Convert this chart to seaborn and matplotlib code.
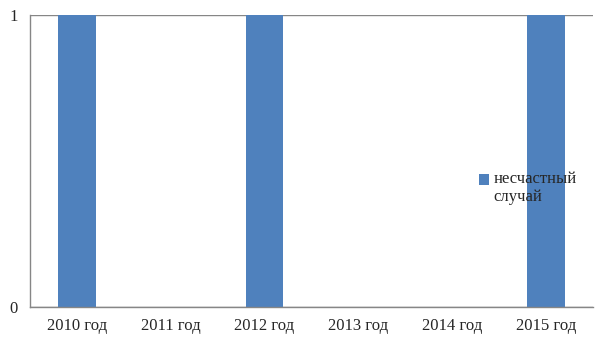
import matplotlib
matplotlib.use("Agg")
import matplotlib.pyplot as plt
import seaborn as sns
import pandas as pd
import numpy as np
from matplotlib.patches import Rectangle
from matplotlib.legend_handler import HandlerPatch
from matplotlib.container import BarContainer

categories = ["2010 год", "2011 год", "2012 год", "2013 год", "2014 год", "2015 год"]
values = [1, 0, 1, 0, 0, 1]
series_name = "несчастный\nслучай"
y_ticks = [0, 1]

sns.set_style("white")
plt.rcParams['font.family'] = ['Liberation Serif', 'DejaVu Serif']

df = pd.DataFrame({"cat": categories, "val": values})

fig = plt.figure(figsize=(6.05, 3.4), dpi=100)
ax = fig.add_axes([30/605, 33/340, 563/605, 292/340])

sns.barplot(data=df, x="cat", y="val", color="#4F81BD", width=0.4,
            saturation=1, ax=ax, label=series_name, linewidth=0)

ax.set_xlim(-0.5, len(categories) - 0.5)
ax.set_ylim(0, 1)
ax.set_xlabel("")
ax.set_ylabel("")
ax.set_yticks(y_ticks)
ax.set_yticklabels([str(t) for t in y_ticks], fontsize=12)
ax.tick_params(axis="x", which="major", length=0, labelsize=12, pad=8)
ax.set_xticks(np.arange(-0.5, len(categories)), minor=True)
ax.tick_params(axis="x", which="minor", length=5, color="#868686", width=1)
ax.tick_params(axis="y", which="major", length=5, color="#868686", width=1, pad=4, labelsize=12)

for s in ["top", "right"]:
    ax.spines[s].set_visible(False)
for s in ["left", "bottom"]:
    ax.spines[s].set_color("#868686")
    ax.spines[s].set_linewidth(1)
ax.yaxis.grid(True, color="#868686", linewidth=1)
ax.set_axisbelow(True)


def make_patch(legend, orig_handle, xdescent, ydescent, width, height, fontsize):
    return Rectangle((-xdescent, -ydescent + 6.5), width, height)


def update_from_first(tgt, src):
    tgt.update_from(src[0])


handles, labels = ax.get_legend_handles_labels()
hmap = {type(h): HandlerPatch(patch_func=make_patch, update_func=update_from_first)
        for h in handles if isinstance(h, BarContainer)}
leg = ax.legend(handles, labels, loc="upper left",
                bbox_to_anchor=(449/563, (307-171)/292),
                frameon=False, fontsize=12, handlelength=0.62, handleheight=0.7,
                handletextpad=0.25, borderpad=0, borderaxespad=0, labelspacing=0,
                handler_map=hmap)

fig.savefig("out.png", dpi=100)
